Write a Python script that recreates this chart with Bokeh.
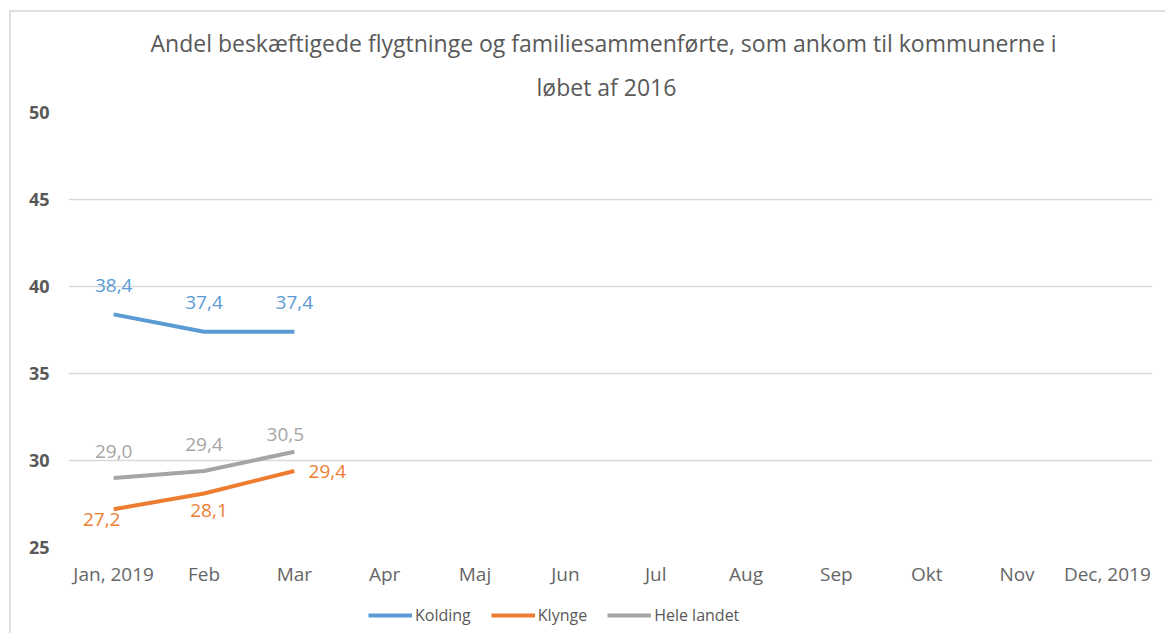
from bokeh.plotting import figure
from bokeh.layouts import column
from bokeh.models import (ColumnDataSource, LabelSet, Legend, LegendItem, FixedTicker, Title,
                          FactorRange, Range1d)
from bokeh.core.properties import value
from bokeh.embed import file_html
from bokeh.resources import INLINE

months = ["Jan, 2019", "Feb", "Mar", "Apr", "Maj", "Jun", "Jul", "Aug", "Sep", "Okt", "Nov", "Dec, 2019"]
observed = ["Jan, 2019", "Feb", "Mar"]
kolding = [38.4, 37.4, 37.4]
klynge = [27.2, 28.1, 29.4]
hele_landet = [29.0, 29.4, 30.5]
y_ticks = [25, 30, 35, 40, 45, 50]
series_names = ["Kolding", "Klynge", "Hele landet"]
title_lines = ["Andel beskæftigede flygtninge og familiesammenførte, som ankom til kommunerne i",
               "løbet af 2016"]

FONT = "Open Sans"
c_kold = "#5b9bd5"
c_kly = "#ed7d31"
c_hele = "#a5a5a5"
TXT = "#595959"

p = figure(x_range=FactorRange(*months), y_range=(25, 50), width=1154, height=588,
           output_backend="svg", toolbar_location=None, title=None,
           min_border_left=57, min_border_right=13, min_border_top=100, min_border_bottom=53)
p.outline_line_color = None
p.background_fill_color = "white"
p.border_fill_color = "white"

p.add_layout(Title(text=title_lines[1], align="left", text_font=FONT, text_font_size="23px",
                   text_font_style="normal", text_color=TXT, standoff=20, offset=468,
                   text_line_height=0.9), "above")
p.add_layout(Title(text=title_lines[0], align="left", text_font=FONT, text_font_size="23px",
                   text_font_style="normal", text_color=TXT, standoff=0, offset=82,
                   text_line_height=0.9), "above")

p.xgrid.grid_line_color = None
p.ygrid.grid_line_color = "#d9d9d9"
p.ygrid.grid_line_width = 1.5
p.yaxis.ticker = FixedTicker(ticks=y_ticks)
for ax in (p.xaxis[0], p.yaxis[0]):
    ax.axis_line_color = None
    ax.major_tick_line_color = None
    ax.minor_tick_line_color = None
p.yaxis.major_label_text_font = FONT
p.yaxis.major_label_text_font_style = "bold"
p.yaxis.major_label_text_font_size = "18px"
p.yaxis.major_label_text_color = TXT
p.yaxis.major_label_standoff = 13
p.xaxis.major_label_text_font = FONT
p.xaxis.major_label_text_font_size = "19px"
p.xaxis.major_label_text_color = "#666666"
p.xaxis.major_label_standoff = 7

def fmt(vals):
    return [f"{v:.1f}".replace(".", ",") for v in vals]

src_k = ColumnDataSource(dict(x=observed, y=kolding, t=fmt(kolding)))
src_l = ColumnDataSource(dict(x=observed, y=klynge, t=fmt(klynge)))
src_h = ColumnDataSource(dict(x=observed, y=hele_landet, t=fmt(hele_landet)))

p.line("x", "y", source=src_k, line_color=c_kold, line_width=4)
p.line("x", "y", source=src_l, line_color=c_kly, line_width=4)
p.line("x", "y", source=src_h, line_color=c_hele, line_width=4)

lab_style = dict(text_font=value(FONT), text_font_size="19px", text_align="center",
                 text_baseline="middle")

def labels(xs, ys, color, dx, dy):
    s = ColumnDataSource(dict(x=xs, y=ys, t=fmt(ys)))
    p.add_layout(LabelSet(x="x", y="y", text="t", source=s, text_color=color,
                          x_offset=dx, y_offset=dy, **lab_style))

labels(observed, kolding, c_kold, 0, 29)
labels(observed[:2], hele_landet[:2], c_hele, 0, 26)
labels(observed[2:], hele_landet[2:], c_hele, -9, 17)
labels(observed[:1], klynge[:1], c_kly, -12, -10)
labels(observed[1:2], klynge[1:2], c_kly, 5, -17)
labels(observed[2:], klynge[2:], c_kly, 33, -1)

# legend strip below the chart
p2 = figure(x_range=FactorRange(*months), y_range=Range1d(0, 1), width=1154, height=33,
            output_backend="svg", toolbar_location=None,
            min_border_left=0, min_border_right=0, min_border_top=0, min_border_bottom=0)
p2.outline_line_color = None
p2.axis.visible = False
p2.grid.visible = False
lr_k = p2.line("x", "y", source=src_k, line_color=c_kold, line_width=4)
lr_l = p2.line("x", "y", source=src_l, line_color=c_kly, line_width=4)
lr_h = p2.line("x", "y", source=src_h, line_color=c_hele, line_width=4)
legend = Legend(items=[LegendItem(label=series_names[0], renderers=[lr_k]),
                       LegendItem(label=series_names[1], renderers=[lr_l]),
                       LegendItem(label=series_names[2], renderers=[lr_h])],
                orientation="horizontal", location=(300, 7), border_line_color=None,
                background_fill_alpha=0,
                label_text_font=FONT, label_text_font_size="16px", label_text_color=TXT,
                glyph_width=44, label_standoff=3, spacing=20, padding=4, margin=0)
p2.add_layout(legend, "center")

layout = column(p, p2, spacing=0)
layout.styles = {"margin-left": "9px", "margin-top": "10px",
                 "border-left": "2px solid #e0e0e0", "border-top": "2px solid #e0e0e0"}
open("out.html", "w").write(file_html(layout, INLINE))
